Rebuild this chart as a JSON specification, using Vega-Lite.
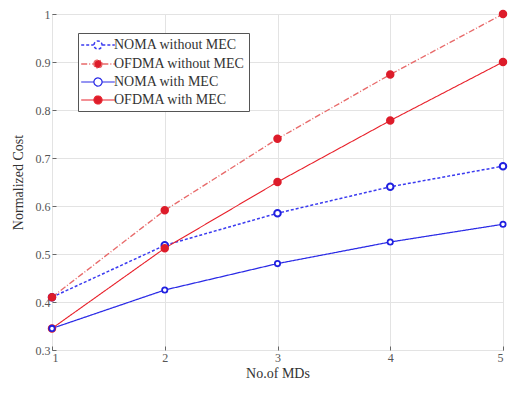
{
  "$schema": "https://vega.github.io/schema/vega-lite/v6.json",
  "width": 451,
  "height": 336,
  "autosize": {"type": "none"},
  "padding": {"left": 52, "top": 14, "right": 7, "bottom": 44},
  "background": "white",
  "config": {
    "font": "serif",
    "view": {"stroke": "#666", "strokeWidth": 1},
    "axis": {
      "labelFont": "serif", "titleFont": "serif",
      "labelFontSize": 12, "titleFontSize": 14, "labelColor": "#555", "titleColor": "#333",
      "titleFontWeight": "normal", "gridColor": "#e3e3e3", "domain": false,
      "ticks": true, "tickSize": -4, "tickColor": "#666"
    },
    "legend": {"labelFont": "serif", "labelFontSize": 14, "labelColor": "#333"}
  },
  "data": {
    "values": [
      {"n": 1, "v": 0.41, "s": "NOMA without MEC"},
      {"n": 2, "v": 0.518, "s": "NOMA without MEC"},
      {"n": 3, "v": 0.585, "s": "NOMA without MEC"},
      {"n": 4, "v": 0.64, "s": "NOMA without MEC"},
      {"n": 5, "v": 0.683, "s": "NOMA without MEC"},
      {"n": 1, "v": 0.41, "s": "OFDMA without MEC"},
      {"n": 2, "v": 0.591, "s": "OFDMA without MEC"},
      {"n": 3, "v": 0.74, "s": "OFDMA without MEC"},
      {"n": 4, "v": 0.874, "s": "OFDMA without MEC"},
      {"n": 5, "v": 1.0, "s": "OFDMA without MEC"},
      {"n": 1, "v": 0.345, "s": "NOMA with MEC"},
      {"n": 2, "v": 0.425, "s": "NOMA with MEC"},
      {"n": 3, "v": 0.48, "s": "NOMA with MEC"},
      {"n": 4, "v": 0.525, "s": "NOMA with MEC"},
      {"n": 5, "v": 0.562, "s": "NOMA with MEC"},
      {"n": 1, "v": 0.345, "s": "OFDMA with MEC"},
      {"n": 2, "v": 0.512, "s": "OFDMA with MEC"},
      {"n": 3, "v": 0.65, "s": "OFDMA with MEC"},
      {"n": 4, "v": 0.778, "s": "OFDMA with MEC"},
      {"n": 5, "v": 0.9, "s": "OFDMA with MEC"}
    ]
  },
  "encoding": {
    "x": {"field": "n", "type": "quantitative", "scale": {"domain": [1, 5], "nice": false},
      "axis": {"values": [1, 2, 3, 4, 5], "title": "No.of MDs", "labelPadding": 6, "titlePadding": 3}},
    "y": {"field": "v", "type": "quantitative", "scale": {"domain": [0.3, 1], "nice": false, "zero": false},
      "axis": {"values": [0.3, 0.4, 0.5, 0.6, 0.7, 0.8, 0.9, 1.0], "format": ".1~f", "title": "Normalized Cost", "labelPadding": 6, "titlePadding": 10}},
    "color": {"field": "s", "type": "nominal", "title": null,
      "scale": {"domain": ["NOMA without MEC", "OFDMA without MEC", "NOMA with MEC", "OFDMA with MEC"],
        "range": ["#3b3bf0", "#e86a6a", "#2a2ae6", "#e8202a"]},
      "legend": {"orient": "none", "legendX": 26, "legendY": 19, "strokeColor": "#555", "fillColor": "white",
        "padding": 4, "rowPadding": 3, "symbolSize": 196, "symbolStrokeWidth": 1.8, "symbolOffset": 8, "labelOffset": 8,
        "symbolType": "M-2.4,0L-0.62,0M0.62,0L2.4,0M-0.58,0A0.58,0.58 0 1,1 0.58,0A0.58,0.58 0 1,1 -0.58,0"}}
  },
  "layer": [
    {
      "mark": {"type": "line"},
      "encoding": {
        "strokeDash": {"field": "s", "type": "nominal", "title": null,
          "scale": {"domain": ["NOMA without MEC", "OFDMA without MEC", "NOMA with MEC", "OFDMA with MEC"],
            "range": [[3, 2], [6, 2, 1, 2], [1, 0], [1, 0]]}},
        "strokeWidth": {"field": "s", "type": "nominal", "legend": null,
          "scale": {"domain": ["NOMA without MEC", "OFDMA without MEC", "NOMA with MEC", "OFDMA with MEC"],
            "range": [1.5, 1.1, 2, 2.2]}}
      }
    },
    {
      "transform": [{"filter": "datum.s !== 'NOMA with MEC'"}],
      "mark": {"type": "point", "filled": false, "strokeWidth": 2, "opacity": 1, "size": 42},
      "encoding": {
        "stroke": {"field": "s", "type": "nominal", "legend": null,
          "scale": {"domain": ["NOMA without MEC", "OFDMA without MEC", "NOMA with MEC", "OFDMA with MEC"],
            "range": ["#2020e0", "#dd1c2a", "#2020e0", "#dd1c2a"]}},
        "fill": {"field": "s", "type": "nominal", "title": null,
          "scale": {"domain": ["NOMA without MEC", "OFDMA without MEC", "NOMA with MEC", "OFDMA with MEC"],
            "range": ["white", "#dd1c2a", "white", "#dd1c2a"]}}
      }
    },
    {
      "transform": [{"filter": "datum.s === 'NOMA with MEC'"}],
      "mark": {"type": "point", "filled": false, "strokeWidth": 1.8, "opacity": 1, "size": 28},
      "encoding": {
        "stroke": {"field": "s", "type": "nominal", "legend": null},
        "fill": {"field": "s", "type": "nominal", "title": null}
      }
    }
  ]
}
